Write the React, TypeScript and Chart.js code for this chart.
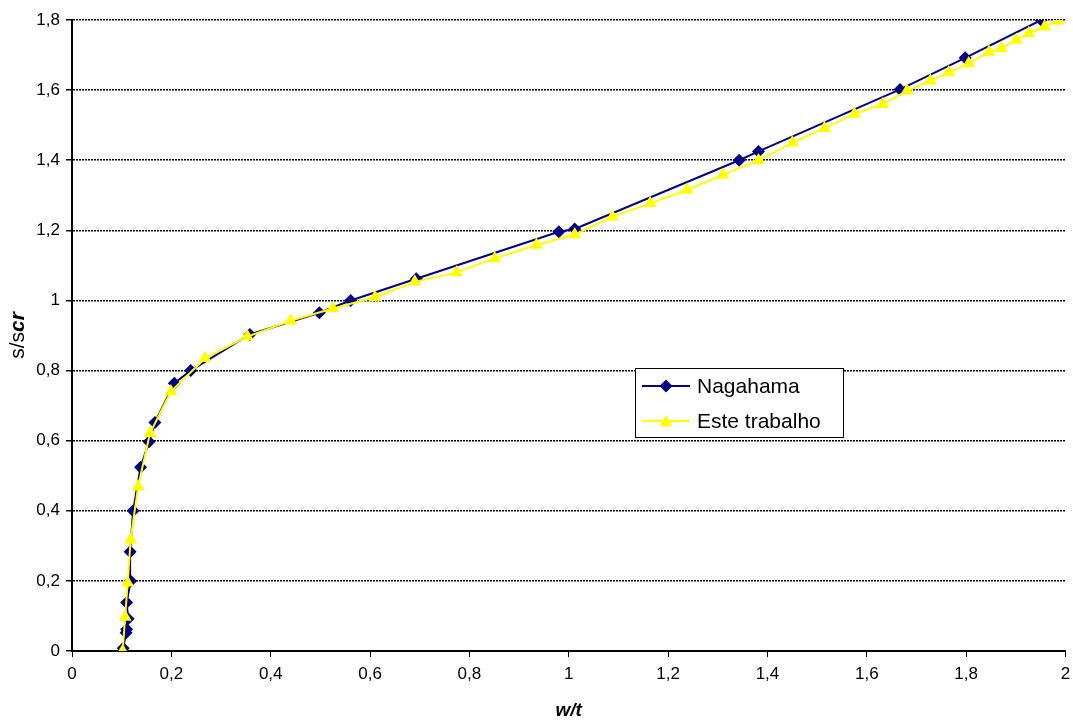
import React, { useEffect, useRef } from "react";
import { Chart, registerables } from "chart.js";

Chart.register(...registerables);

const FONT = "'Liberation Sans', Arial, Helvetica, sans-serif";

// Nagahama (diamonds)
const nagahamaX = [0.103, 0.109, 0.110, 0.113, 0.110, 0.118, 0.117, 0.123, 0.138, 0.155, 0.167, 0.206, 0.239, 0.358, 0.498, 0.561, 0.693, 0.980, 1.012, 1.343, 1.382, 1.667, 1.798, 1.951];
const nagahamaY = [0.008, 0.052, 0.062, 0.092, 0.138, 0.200, 0.283, 0.400, 0.524, 0.597, 0.652, 0.764, 0.800, 0.903, 0.965, 1.000, 1.062, 1.196, 1.204, 1.400, 1.425, 1.602, 1.692, 1.800];

// Este trabalho (triangles)
const esteX = [0.102, 0.107, 0.112, 0.118, 0.133, 0.157, 0.199, 0.268, 0.353, 0.440, 0.525, 0.610, 0.690, 0.774, 0.851, 0.935, 1.012, 1.088, 1.164, 1.238, 1.310, 1.382, 1.450, 1.515, 1.575, 1.632, 1.681, 1.728, 1.765, 1.805, 1.846, 1.871, 1.901, 1.926, 1.958, 1.985];
const esteY = [0.000, 0.097, 0.195, 0.317, 0.469, 0.621, 0.740, 0.835, 0.897, 0.942, 0.977, 1.009, 1.053, 1.080, 1.120, 1.158, 1.188, 1.239, 1.277, 1.315, 1.358, 1.399, 1.450, 1.491, 1.532, 1.560, 1.598, 1.627, 1.650, 1.676, 1.709, 1.719, 1.743, 1.762, 1.781, 1.798];

const seriesNames = ["Nagahama", "Este trabalho"];
const xTitle = "w/t";
const yTitleMain = "s/s";
const yTitleSub = "cr";

const NAVY = "#000080";
const YELLOW = "#FFFF00";

const fmt = (v: number) => String(Math.round(v * 10) / 10).replace(".", ",");

const drawDiamond = (ctx: CanvasRenderingContext2D, x: number, y: number, r: number, c: string) => {
  ctx.beginPath();
  ctx.moveTo(x, y - r);
  ctx.lineTo(x + r, y);
  ctx.lineTo(x, y + r);
  ctx.lineTo(x - r, y);
  ctx.closePath();
  ctx.fillStyle = c;
  ctx.fill();
};
const drawTriangle = (ctx: CanvasRenderingContext2D, x: number, y: number, r: number, c: string) => {
  ctx.beginPath();
  for (let i = 0; i < 3; i++) {
    const a = (i * 2 * Math.PI) / 3;
    const px = x + Math.sin(a) * r;
    const py = y - Math.cos(a) * r;
    if (i === 0) ctx.moveTo(px, py);
    else ctx.lineTo(px, py);
  }
  ctx.closePath();
  ctx.fillStyle = c;
  ctx.fill();
};

const overlay = {
  id: "overlay",
  afterDraw(chart: any) {
    const ctx: CanvasRenderingContext2D = chart.ctx;
    const ca = chart.chartArea;
    // y-axis title
    ctx.save();
    ctx.translate(18, (ca.top + ca.bottom) / 2);
    ctx.rotate(-Math.PI / 2);
    const f1 = `normal 21px ${FONT}`;
    const f2 = `italic bold 21px ${FONT}`;
    ctx.font = f1;
    const w1 = ctx.measureText(yTitleMain).width;
    ctx.font = f2;
    const w2 = ctx.measureText(yTitleSub).width;
    const x0 = -(w1 + w2) / 2;
    ctx.textBaseline = "middle";
    ctx.textAlign = "left";
    ctx.fillStyle = "#000";
    ctx.font = f1;
    ctx.fillText(yTitleMain, x0, 0);
    ctx.font = f2;
    ctx.fillText(yTitleSub, x0 + w1, 0);
    ctx.restore();

    // legend
    ctx.save();
    const bx = 635.5, by = 368.5, bw = 208, bh = 69;
    ctx.fillStyle = "#fff";
    ctx.fillRect(bx, by, bw, bh);
    ctx.strokeStyle = "#000";
    ctx.lineWidth = 1;
    ctx.strokeRect(bx, by, bw, bh);
    const rows = [386, 421];
    const colors = [NAVY, YELLOW];
    rows.forEach((ry, i) => {
      ctx.strokeStyle = colors[i];
      ctx.lineWidth = 2;
      ctx.beginPath();
      ctx.moveTo(642, ry);
      ctx.lineTo(690, ry);
      ctx.stroke();
      if (i === 0) drawDiamond(ctx, 666, ry, 6.5, NAVY);
      else drawTriangle(ctx, 666, ry + 1.5, 7.5, YELLOW);
      ctx.fillStyle = "#000";
      ctx.font = `normal 21px ${FONT}`;
      ctx.textBaseline = "middle";
      ctx.textAlign = "left";
      ctx.fillText(seriesNames[i], 697, ry + 1);
    });
    ctx.restore();
  },
};

export default function App() {
  const ref = useRef<HTMLCanvasElement | null>(null);
  useEffect(() => {
    if (!ref.current) return;
    Chart.defaults.font.family = FONT;
    const nagData = nagahamaX.map((x, i) => ({ x, y: nagahamaY[i] }));
    const esteData = esteX.map((x, i) => ({ x, y: esteY[i] }));
    const chart = new Chart(ref.current, {
      type: "scatter",
      data: {
        datasets: [
          {
            label: seriesNames[0],
            data: nagData,
            showLine: true,
            borderColor: NAVY,
            backgroundColor: NAVY,
            borderWidth: 2,
            pointStyle: "rectRot",
            pointRadius: 6.5,
            pointBorderWidth: 0,
            pointBackgroundColor: NAVY,
            order: 1,
          },
          {
            label: seriesNames[1],
            data: esteData,
            showLine: true,
            borderColor: YELLOW,
            backgroundColor: YELLOW,
            borderWidth: 2,
            pointStyle: "triangle",
            pointRadius: 7.5,
            pointBorderWidth: 0,
            pointBackgroundColor: YELLOW,
            order: 0,
          },
        ],
      },
      options: {
        responsive: false,
        animation: false,
        layout: { padding: { left: 0, right: 7, top: 20, bottom: 0 } },
        plugins: { legend: { display: false }, tooltip: { enabled: false } },
        scales: {
          x: {
            type: "linear",
            min: 0,
            max: 2,
            ticks: { stepSize: 0.2, callback: (v: any) => fmt(Number(v)), color: "#000", font: { size: 17 }, padding: 7, maxRotation: 0 },
            grid: { drawOnChartArea: false, drawTicks: true, tickLength: 6, color: "#000", tickColor: "#000" },
            border: { display: true, color: "#000", width: 2 },
            title: { display: true, text: xTitle, color: "#000", font: { size: 19, style: "italic", weight: "bold" }, padding: { top: 0, bottom: 0 } },
            afterFit: (s: any) => { s.height = 71; s.paddingRight = 0; s.paddingLeft = 0; },
          },
          y: {
            type: "linear",
            min: 0,
            max: 1.8,
            ticks: { stepSize: 0.2, callback: (v: any) => fmt(Number(v)), color: "#000", font: { size: 17 }, padding: 6 },
            grid: { drawOnChartArea: true, drawTicks: true, tickLength: 6, color: "#000", tickColor: "#000", lineWidth: 1.5 },
            border: { display: true, color: "#000", width: 2, dash: [2, 1] },
            afterFit: (s: any) => { s.width = 72; s.paddingTop = 0; s.paddingBottom = 0; },
          },
        },
      },
      plugins: [overlay],
    } as any);
    return () => chart.destroy();
  }, []);
  return (
    <div style={{ position: "absolute", left: 0, top: 0, width: 1073, height: 722, background: "#fff" }}>
      <canvas ref={ref} width={1073} height={722} />
    </div>
  );
}
